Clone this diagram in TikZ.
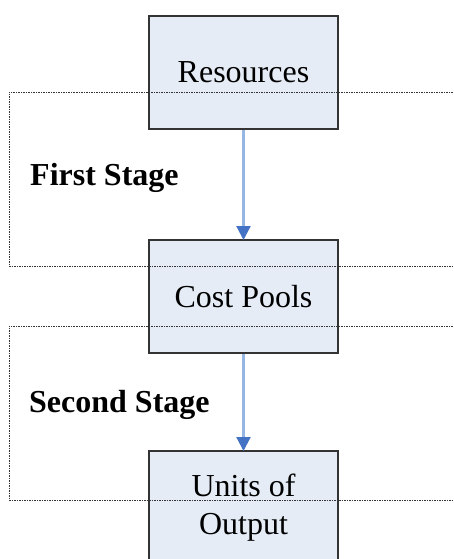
\documentclass[tikz,border=0pt]{standalone}
\usepackage{fontspec}
\setmainfont{Liberation Serif}
\usetikzlibrary{arrows.meta}

\definecolor{boxfill}{RGB}{229,236,246}
\definecolor{linkblue}{RGB}{150,182,230}
\definecolor{tipblue}{RGB}{68,114,196}

\tikzset{
  stagebox/.style={draw=black!80,line width=1.4pt,fill=boxfill,minimum width=189pt,
    minimum height=113pt,inner sep=0pt,align=center,font=\fontsize{32}{38.4}\selectfont},
  stagelabel/.style={anchor=base west,inner sep=0pt,font=\fontsize{32}{38.4}\selectfont\bfseries},
  link/.style={draw=linkblue,line width=2.2pt,shorten >=-0.7pt,
    -{Triangle[width=14pt,length=14pt,color=tipblue]}},
  stageframe/.style={draw=black!80,line width=0.8pt,dash pattern=on 1.5pt off 1pt},
}

\begin{document}
\begin{tikzpicture}[x=1pt,y=-1pt]
\clip (0,0) rectangle (453,559);
\fill[white] (0,0) rectangle (453,559);

%boxes
\node[stagebox] (res) at (243.5,72.5) {Resources};
\node[stagebox] (pools) at (243.5,296.5) {Cost Pools};
\node[stagebox] (units) at (243.5,507.5) {Units of\\Output};

%arrows
\draw[link] (res) -- (pools);
\draw[link] (pools) -- (units);

%stages
\draw[stageframe] (460,92) -- (9,92) -- (9,266) -- (460,266); %first
\draw[stageframe] (460,326) -- (9,326) -- (9,500) -- (460,500); %second

\node[stagelabel] (first) at (30,185) {First Stage};
\node[stagelabel] (second) at (29,412) {Second Stage};

\end{tikzpicture}
\end{document}
